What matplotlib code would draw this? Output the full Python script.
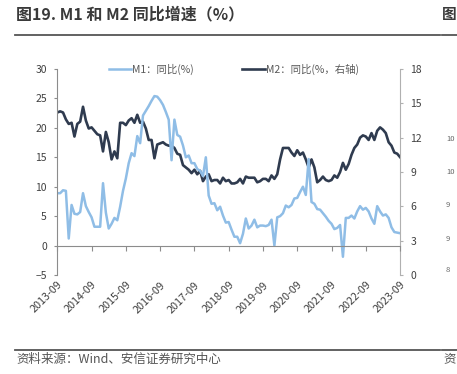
import matplotlib
matplotlib.use('Agg')
import matplotlib.pyplot as plt
from matplotlib.lines import Line2D

plt.rcParams['font.family'] = ['Noto Sans CJK SC', 'DejaVu Sans']

# monthly data, 2013-09 .. 2023-09
m1 = [8.9, 8.9, 9.4, 9.3,
      1.2, 6.9, 5.4, 5.3, 5.7, 8.9, 6.7, 5.7, 4.8, 3.2, 3.2, 3.2,
      10.6, 5.6, 2.9, 3.7, 4.7, 4.3, 6.6, 9.3, 11.4, 14.0, 15.7, 15.2,
      18.6, 17.4, 22.1, 22.9, 23.7, 24.6, 25.4, 25.3, 24.7, 23.9, 22.7, 21.4,
      14.5, 21.4, 18.8, 18.5, 17.0, 15.0, 15.3, 14.0, 14.0, 13.0, 12.7, 11.8,
      15.0, 8.5, 7.1, 7.2, 6.0, 6.6, 5.1, 3.9, 4.0, 2.7, 1.5, 1.5,
      0.4, 2.0, 4.6, 2.9, 3.4, 4.4, 3.1, 3.4, 3.4, 3.3, 3.5, 4.4,
      0.0, 4.8, 5.0, 5.5, 6.8, 6.5, 6.9, 8.0, 8.1, 9.1, 10.0, 8.6,
      14.7, 7.4, 7.1, 6.2, 6.1, 5.5, 4.9, 4.2, 3.7, 2.8, 3.0, 3.5,
      -1.9, 4.7, 4.7, 5.1, 4.6, 5.8, 6.7, 6.1, 6.4, 5.8, 4.6, 3.7,
      6.7, 5.8, 5.1, 5.3, 4.7, 3.1, 2.3, 2.2, 2.1]
m2 = [14.2, 14.3, 14.2, 13.6,
      13.2, 13.3, 12.1, 13.2, 13.4, 14.7, 13.5, 12.8, 12.9, 12.6, 12.3, 12.2,
      10.8, 12.5, 11.6, 10.1, 10.8, 10.2, 13.3, 13.3, 13.1, 13.5, 13.7, 13.3,
      14.0, 13.3, 13.4, 12.8, 11.8, 11.8, 10.2, 11.4, 11.5, 11.6, 11.4, 11.3,
      11.3, 11.1, 10.6, 10.5, 9.6, 9.4, 9.2, 8.9, 9.2, 8.8, 9.1, 8.2,
      8.6, 8.8, 8.2, 8.3, 8.3, 8.0, 8.5, 8.2, 8.3, 8.0, 8.0, 8.1,
      8.4, 8.0, 8.6, 8.5, 8.5, 8.5, 8.1, 8.2, 8.4, 8.4, 8.2, 8.7,
      8.4, 8.8, 10.1, 11.1, 11.1, 11.1, 10.7, 10.4, 10.9, 10.5, 10.7, 10.1,
      9.4, 10.1, 9.4, 8.1, 8.3, 8.6, 8.3, 8.2, 8.3, 8.7, 8.5, 9.0,
      9.8, 9.2, 9.7, 10.5, 11.1, 11.4, 12.0, 12.2, 12.1, 11.8, 12.4, 11.8,
      12.6, 12.9, 12.7, 12.4, 11.6, 11.3, 10.7, 10.6, 10.3]
tick_labels = ['2013-09', '2014-09', '2015-09', '2016-09', '2017-09', '2018-09',
               '2019-09', '2020-09', '2021-09', '2022-09', '2023-09']

x = list(range(len(m1)))
c_m1 = '#8fbde6'
c_m2 = '#2f3b4f'
txt = '#404040'

fig = plt.figure(figsize=(4.57, 3.74), dpi=100)
ax = fig.add_axes([0.1254, 0.2647, 0.75, 0.5508])
ax2 = ax.twinx()
ax.set_zorder(ax2.get_zorder() + 1)
ax.patch.set_visible(False)

# spine position first: moving it resets the ticks
ax.spines['bottom'].set_position(('data', 0))

ax.plot(x, m1, color=c_m1, lw=1.8, solid_joinstyle='round')
ax2.plot(x, m2, color=c_m2, lw=1.9, solid_joinstyle='round')

ax.set_xlim(0, 120)
ax.set_ylim(-5, 30)
ax.set_yticks(range(-5, 31, 5))
ax2.set_ylim(0, 18)
ax2.set_yticks(range(0, 19, 3))
ax.set_xticks(range(0, 121, 12))
ax.set_xticklabels(tick_labels, rotation=45, ha='right', rotation_mode='anchor',
                   fontsize=7.8, color=txt)

for a in (ax, ax2):
    a.spines['top'].set_visible(False)
ax.spines['right'].set_visible(False)
ax2.spines['left'].set_visible(False)
ax2.spines['bottom'].set_visible(False)
for s in ('left', 'bottom'):
    ax.spines[s].set_color('#8c8c8c')
    ax.spines[s].set_linewidth(0.8)
ax2.spines['right'].set_color('#b0b0b0')
ax2.spines['right'].set_linewidth(0.8)

ax.tick_params(axis='x', length=3.5, width=0.8, color='#8c8c8c', pad=21)
ax.tick_params(axis='y', length=2.5, width=0.8, color='#8c8c8c', labelsize=7.5,
               labelcolor=txt, pad=5)
ax2.tick_params(axis='y', length=2.5, width=0.8, color='#b0b0b0', labelsize=7.5,
                labelcolor=txt, pad=5)

handles = [Line2D([], [], color=c_m1, lw=1.8), Line2D([], [], color=c_m2, lw=1.9)]
ax.legend(handles, ['M1：同比(%)', 'M2：同比(%，右轴)'], ncol=2, loc='center',
          bbox_to_anchor=(0.515, 1.0), frameon=False, fontsize=7.5,
          handlelength=2.2, handletextpad=0.1, columnspacing=4.6,
          labelcolor='#595959')

# header / footer of the report page
fig.text(16 / 457, 1 - 14 / 374, '图19. M1 和 M2 同比增速（%）', fontsize=11.5,
         fontweight='bold', color='#3a3a3a', va='center', ha='left')
fig.text(442 / 457, 1 - 14 / 374, '图', fontsize=10.5, fontweight='bold',
         color='#3a3a3a', va='center', ha='left')
fig.add_artist(Line2D([15 / 457, 440 / 457], [1 - 34.5 / 374] * 2, color='#555555', lw=1.3))
fig.add_artist(Line2D([442 / 457, 1], [1 - 34.5 / 374] * 2, color='#555555', lw=1.3))
fig.add_artist(Line2D([15 / 457, 440 / 457], [1 - 350 / 374] * 2, color='#555555', lw=1.3))
fig.add_artist(Line2D([442 / 457, 1], [1 - 350 / 374] * 2, color='#555555', lw=1.3))
fig.text(16 / 457, 1 - 359 / 374, '资料来源：Wind、安信证券研究中心', fontsize=9,
         color='#555555', va='center', ha='left', style='italic')
fig.text(443 / 457, 1 - 359 / 374, '资', fontsize=9, color='#555555',
         va='center', ha='left')
for lab, yy in [('10', 139), ('10', 172), ('9', 205), ('9', 239), ('8', 270)]:
    fig.text(446 / 457, 1 - yy / 374, lab, fontsize=5.5, color='#666666',
             va='center', ha='left')

fig.savefig('out.png', dpi=100)
